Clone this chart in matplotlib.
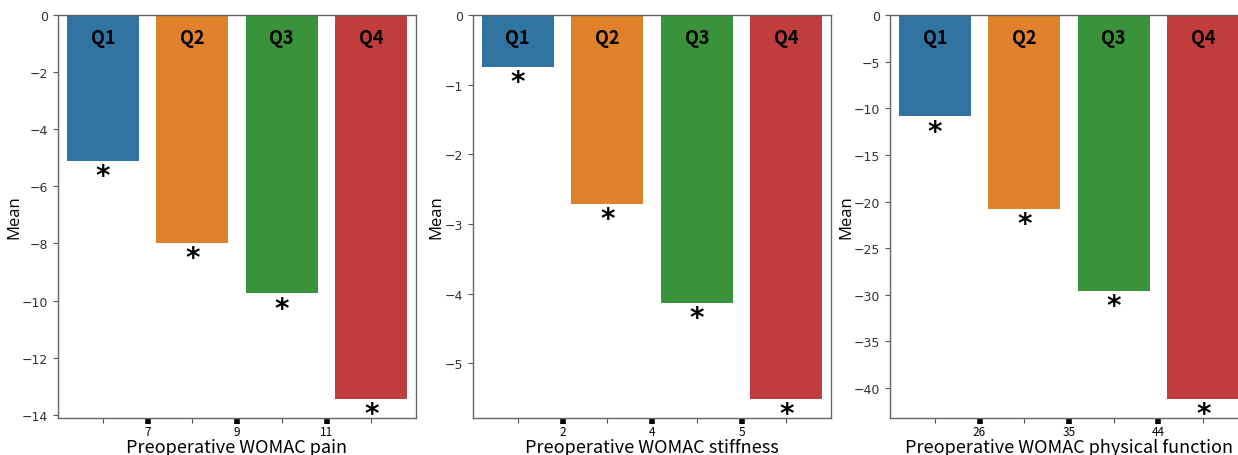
import matplotlib
matplotlib.use('Agg')
import matplotlib.pyplot as plt
from matplotlib.ticker import FixedLocator, NullFormatter

groups = ['Q1', 'Q2', 'Q3', 'Q4']
colors = ['#3274a1', '#e1812c', '#3a923a', '#c03d3e']

pain = [-5.10, -7.98, -9.74, -13.44]
stiffness = [-0.74, -2.71, -4.13, -5.51]
function = [-10.87, -20.75, -29.55, -41.15]

pain_cuts = ['7', '9', '11']
stiffness_cuts = ['2', '4', '5']
function_cuts = ['26', '35', '44']

panels = [
    (pain, pain_cuts, 'Preoperative WOMAC pain'),
    (stiffness, stiffness_cuts, 'Preoperative WOMAC stiffness'),
    (function, function_cuts, 'Preoperative WOMAC physical function'),
]
lefts = [58, 473, 890]

KR = ['Noto Sans CJK KR', 'DejaVu Sans']

W, H = 1238, 456
fig = plt.figure(figsize=(W / 100, H / 100), dpi=100)

for (vals, cuts, xlabel), left in zip(panels, lefts):
    ax = fig.add_axes([left / W, 1 - 419 / H, 358 / W, 403 / H])
    x = list(range(len(groups)))
    ax.bar(x, vals, width=0.8, color=colors)
    ax.set_xlim(-0.5, len(groups) - 0.5)

    for xi, v, g in zip(x, vals, groups):
        ax.annotate(g, (xi, 0), xytext=(0, -9), textcoords='offset points',
                    ha='center', va='top', fontsize=13, fontweight='bold', family=KR)
        ax.annotate('*', (xi, v), xytext=(0, -1), textcoords='offset points',
                    ha='center', va='top', fontsize=20, fontweight='bold',
                    family='DejaVu Sans')

    # small ticks at bar centres, labelled square marks at group cut points
    ax.xaxis.set_major_locator(FixedLocator(x))
    ax.xaxis.set_major_formatter(NullFormatter())
    ax.xaxis.set_minor_locator(FixedLocator([i + 0.5 for i in range(len(cuts))]))
    ax.set_xticklabels(cuts, minor=True, fontsize=8.5, family=KR)
    ax.tick_params(axis='x', which='major', length=3.5, width=0.8, color='#555555')
    ax.tick_params(axis='x', which='minor', length=4, width=4, color='black', pad=1)
    ax.tick_params(axis='y', labelsize=9, length=3.5, color='#555555', labelcolor='#333333')

    ax.set_ylabel('Mean', fontsize=12, family='Open Sans', labelpad=0)
    ax.set_xlabel(xlabel, fontsize=13, family=KR, labelpad=0)
    for s in ax.spines.values():
        s.set_color('#666666')
        s.set_linewidth(1.0)

fig.savefig('out.png', dpi=100)
